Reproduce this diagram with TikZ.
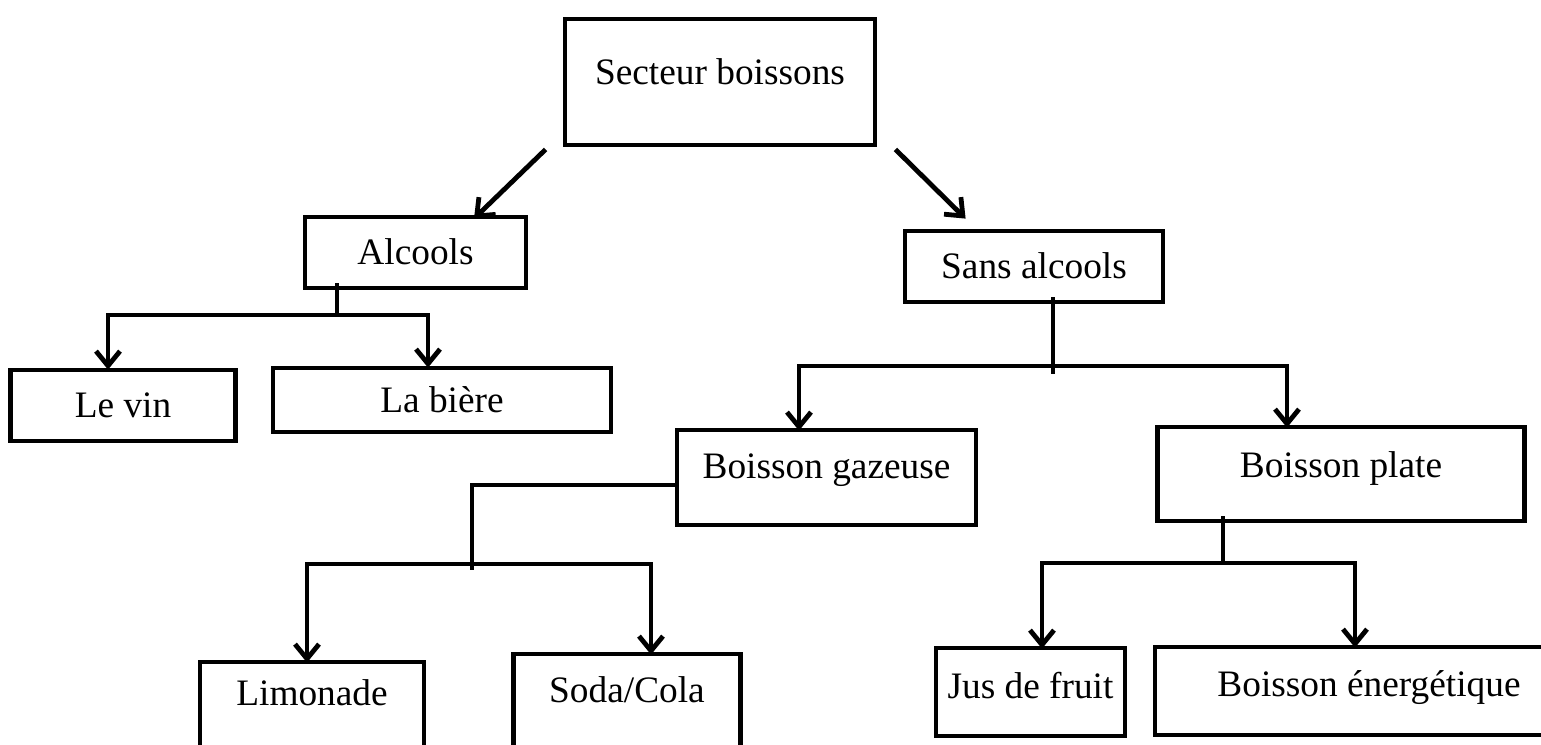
\documentclass[tikz,border=0pt]{standalone}
\usepackage{fontspec}
\setmainfont{Liberation Serif}
\usetikzlibrary{arrows.meta,calc}
\begin{document}
\begin{tikzpicture}[x=0.75pt,y=-0.75pt,
  box/.style={draw, line width=3.6pt, inner sep=2pt, font=\fontsize{28}{32}\selectfont, text height=20pt, text depth=#1},
  box/.default=1.4pt,
  ln/.style={line width=3.6pt},
  arr/.style={line width=3.6pt, -{Straight Barb[length=11pt,width=18pt]}},
  sz/.style 2 args={minimum width=#1*0.75pt, minimum height=#2*0.75pt}]
\useasboundingbox (0,0) rectangle (1541,744);
\clip (0,0) rectangle (1541,744);

% boxes
\node[box=16.4pt, sz={310}{126}] (sec)   at (720,82)    {Secteur boissons};
\node[box, sz={221}{71}]         (alc)   at (415.5,252.5) {Alcools};
\node[box, sz={258}{71}]         (sans)  at (1034,266.5) {Sans alcools};
\node[box, sz={225}{71}]         (vin)   at (123,405.5) {Le vin};
\node[box, sz={338}{64}]         (biere) at (442,400)   {La bière};
\node[box=17.9pt, sz={299}{95}]  (gaz)   at (826.5,477.5) {Boisson gazeuse};
\node[box=14.9pt, sz={367}{94}]  (plate) at (1341,474)  {Boisson plate};
\node[box=34.4pt, sz={224}{106}] (limo)  at (312,715)   {Limonade};
\node[box=32.9pt, sz={227}{114}] (soda)  at (627,711)   {Soda/Cola};
\node[box=10.4pt, sz={189}{88}]  (jus)   at (1030.5,692) {Jus de fruit};
\node[box=11.9pt, sz={428}{88}]  (ener)  at (1369,691)  {Boisson énergétique};

% top arrows
\draw[arr] ($(sec.south west)+(-17,2)$) -- ($(alc.north)+(58.5,4)$);
\draw[arr] ($(sec.south east)+(18,2)$) -- ($(sans.north west)+(63,-10)$);

% Alcools tree
\coordinate (ja) at (337,315);
\coordinate (xa1) at (108,0);
\coordinate (xa2) at (428,0);
\draw[ln] ($(ja |- alc.south)+(0,-7)$) -- (ja);
\draw[arr] (ja) -| ($(vin.north -| xa1)+(0,2)$);
\draw[arr] (ja) -| ($(biere.north -| xa2)+(0,2)$);

% Sans alcools tree
\coordinate (js) at (1053,366);
\coordinate (xs1) at (799,0);
\coordinate (xs2) at (1287,0);
\draw[ln] ($(js |- sans.south)+(0,-7)$) -- ($(js)+(0,8)$);
\draw[arr] (js) -| ($(gaz.north -| xs1)+(0,3)$);
\draw[arr] (js) -| ($(plate.north -| xs2)+(0,3)$);

% Boisson gazeuse tree
\coordinate (jg) at (472,485);
\coordinate (jg2) at (472,564);
\coordinate (xg1) at (307,0);
\coordinate (xg2) at (651,0);
\draw[ln] (gaz.west |- jg) -- (jg) -- ($(jg2)+(0,6)$);
\draw[arr] (jg2) -| ($(limo.north -| xg1)+(0,3)$);
\draw[arr] (jg2) -| ($(soda.north -| xg2)+(0,3)$);

% Boisson plate tree
\coordinate (jp) at (1223,563);
\coordinate (xp1) at (1042,0);
\coordinate (xp2) at (1355,0);
\draw[ln] ($(jp |- plate.south)+(0,-7)$) -- (jp);
\draw[arr] (jp) -| ($(jus.north -| xp1)+(0,3)$);
\draw[arr] (jp) -| ($(ener.north -| xp2)+(0,3)$);
\end{tikzpicture}
\end{document}
